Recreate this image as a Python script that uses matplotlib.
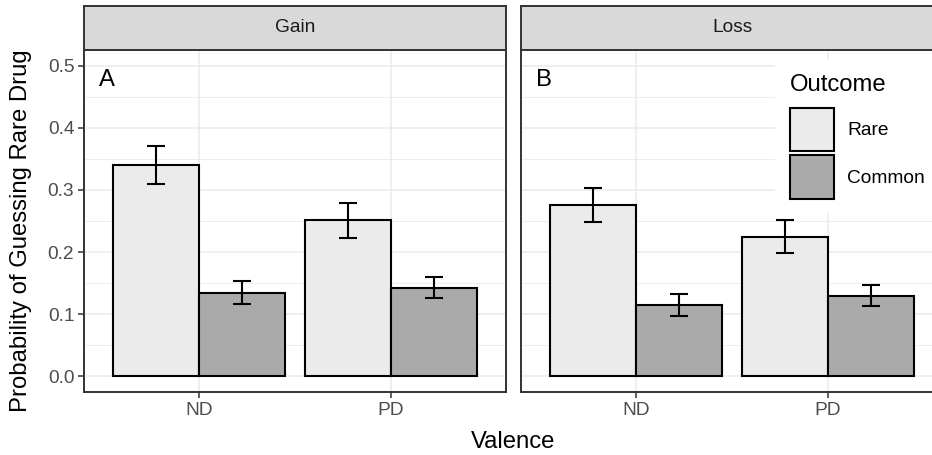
import numpy as np
import matplotlib.pyplot as plt

plt.rcParams['font.family'] = ['Liberation Sans', 'DejaVu Sans']

# data
valence = ['ND', 'PD']
panels = ['Gain', 'Loss']
panel_tags = ['A', 'B']
outcomes = ['Rare', 'Common']

gain_rare = [0.340, 0.251]
gain_rare_se = [0.030, 0.028]
gain_common = [0.135, 0.143]
gain_common_se = [0.018, 0.017]

loss_rare = [0.276, 0.225]
loss_rare_se = [0.027, 0.026]
loss_common = [0.115, 0.130]
loss_common_se = [0.017, 0.017]

values = {'Gain': [gain_rare, gain_common], 'Loss': [loss_rare, loss_common]}
errors = {'Gain': [gain_rare_se, gain_common_se], 'Loss': [loss_rare_se, loss_common_se]}

fills = ['#ebebeb', '#aaaaaa']
dark = '#333333'
grid = '#ebebeb'
W, H = 932, 455
small = 13.8
big = 17.2

fig = plt.figure(figsize=(W / 100, H / 100), dpi=100)

panel_left = [84, 521]
panel_w = 422
top, bottom = 50, 392
strip_top = 5.5

x = np.arange(1, len(valence) + 1)
bw = 0.45

for i, name in enumerate(panels):
    ax = fig.add_axes([panel_left[i] / W, 1 - bottom / H, panel_w / W, (bottom - top) / H])
    ax.set_xlim(0.4, 2.6)
    ax.set_ylim(-0.025, 0.525)
    ax.set_yticks(np.arange(0, 0.51, 0.1))
    ax.set_yticks(np.arange(0.05, 0.5, 0.1), minor=True)
    ax.set_xticks(x)
    ax.set_xticklabels(valence)
    ax.grid(True, which='major', color=grid, lw=1.1, zorder=0)
    ax.grid(True, which='minor', axis='y', color=grid, lw=0.6, zorder=0)
    ax.set_axisbelow(True)
    ax.tick_params(axis='both', which='major', length=4, width=1.1, color=dark,
                   labelcolor='#4d4d4d', labelsize=small, pad=3)
    ax.tick_params(axis='y', which='minor', length=0)
    if i == 1:
        ax.tick_params(axis='y', which='major', length=0, labelleft=False)
    for s in ax.spines.values():
        s.set_color(dark)
        s.set_linewidth(1.4)

    for j, oc in enumerate(outcomes):
        pos = x + (j - 0.5) * bw
        ax.bar(pos, values[name][j], width=bw, color=fills[j], edgecolor='black',
               linewidth=1.5, label=oc, zorder=2)
        ax.errorbar(pos, values[name][j], yerr=errors[name][j], fmt='none',
                    ecolor='black', elinewidth=1.5, capsize=6.7, capthick=1.5, zorder=3)

    ax.text(15 / panel_w, (bottom - 80) / (bottom - top), panel_tags[i],
            transform=ax.transAxes, fontsize=big, va='center', ha='left')

    # facet strip
    st = fig.add_axes([panel_left[i] / W, 1 - top / H, panel_w / W, (top - strip_top) / H])
    st.set_facecolor('#d9d9d9')
    st.set_xticks([])
    st.set_yticks([])
    for s in st.spines.values():
        s.set_color(dark)
        s.set_linewidth(1.4)
    st.text(0.5, 0.5, name, transform=st.transAxes, ha='center', va='center',
            fontsize=small, color='#1a1a1a')

    if i == 1:
        leg = ax.legend(title='Outcome', loc='upper left', bbox_to_anchor=(0.603, 0.971),
                        borderaxespad=0, frameon=True, fancybox=False, framealpha=1,
                        facecolor='white', edgecolor='none', fontsize=small,
                        title_fontsize=big, handlelength=2.3, handleheight=3.1,
                        labelspacing=0.22, handletextpad=0.7, borderpad=0.75,
                        alignment='left')
        leg._legend_box.sep = 8.4
        leg.set_zorder(5)

fig.text(513 / W, 1 - 442 / H, 'Valence', ha='center', va='center', fontsize=big)
fig.text(21 / W, 1 - 231 / H, 'Probability of Guessing Rare Drug', ha='center',
         va='center', rotation=90, fontsize=big)

fig.savefig('out.png', dpi=100)
